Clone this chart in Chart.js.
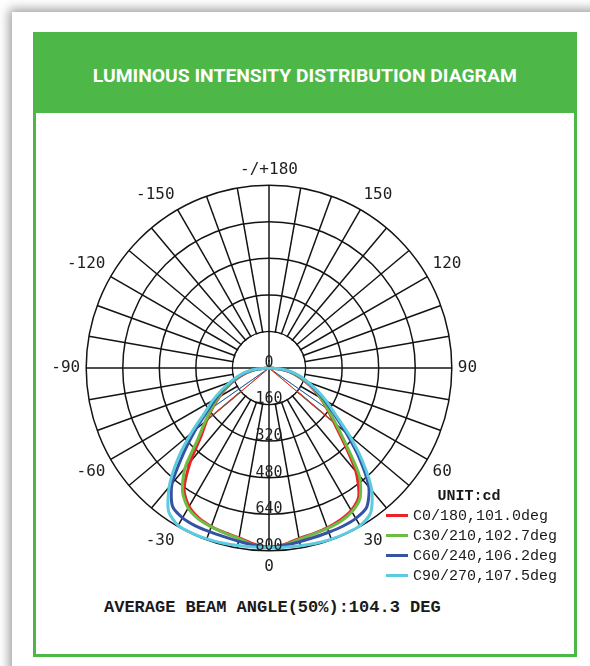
<!DOCTYPE html>
<html>
<head>
<meta charset="utf-8">
<script src="https://cdn.jsdelivr.net/npm/chart.js@4/dist/chart.umd.min.js"></script>
<style>
html,body{margin:0;padding:0;width:590px;height:666px;overflow:hidden;background:#fff;}
#card{position:absolute;left:12px;top:12px;width:700px;height:800px;background:#fff;box-shadow:0 0 10px 3px rgba(0,0,0,0.38);}
#frame{position:absolute;left:33px;top:32px;width:544px;height:625px;box-sizing:border-box;border:3px solid #4db748;}
#head{position:absolute;left:33px;top:32px;width:544px;height:81px;background:#4db748;}
#headText{position:absolute;left:0;top:0;width:544px;height:88px;line-height:88px;text-align:center;color:#fff;font-family:Roboto,'Open Sans',sans-serif;font-weight:700;font-size:19px;white-space:nowrap;}
#headText span{display:inline-block;transform-origin:50% 50%;}
#c{position:absolute;left:19px;top:160px;}
#legend{position:absolute;left:386px;top:487px;width:166px;font-family:'Liberation Mono','Courier New',monospace;font-size:15px;color:#1a1a1a;}
#legend .t{font-weight:700;text-align:center;line-height:20px;height:20px;}
#legend .row{height:20px;line-height:20px;white-space:nowrap;}
#legend .sw{display:inline-block;width:22px;height:3px;vertical-align:middle;margin-right:5px;position:relative;top:-1px;}
#beam{position:absolute;left:104px;top:598px;font-family:'Liberation Mono','Courier New',monospace;font-weight:700;font-size:17px;line-height:20px;color:#1a1a1a;white-space:nowrap;}
</style>
</head>
<body>
<div id="card"></div>
<div id="frame"></div>
<div id="head"><div id="headText"><span id="ht">LUMINOUS INTENSITY DISTRIBUTION DIAGRAM</span></div></div>
<canvas id="c" width="500" height="416"></canvas>
<div id="legend"></div>
<div id="beam">AVERAGE BEAM ANGLE(50%):104.3 DEG</div>
<script>
// ---- data (cd), lower hemisphere, gamma angle 0..90 deg in 5 deg steps ----
const gammaDeg = [0,5,10,15,20,25,30,35,40,45,50,55,60,65,70,75,80,85,90];
const c0Left   = [785,773,755,746,738,725,700,648,535,420,355,300,250,205,162,122,85,45,0];
const c0Right  = [785,775,758,750,744,735,720,685,592,465,372,310,258,210,165,125,87,46,0];
const c30Left  = [785,777,758,748,740,730,708,660,572,440,365,305,255,210,168,128,90,48,0];
const c30Right = [785,778,762,753,747,741,726,695,615,480,384,316,262,215,170,130,92,49,0];
const c60Left  = [784,778,770,764,762,762,757,737,660,530,420,330,270,220,175,135,95,50,0];
const c60Right = [784,779,772,767,765,764,760,745,680,560,440,345,280,225,178,137,96,51,0];
const c90Left  = [785,786,789,793,796,797,795,766,680,565,445,345,285,228,180,140,100,55,0];
const c90Right = [785,787,790,794,797,798,797,775,700,580,460,355,290,232,183,142,102,56,0];
// thin straight traces from the centre: [angle, value] pairs (negative = left side)
const c0Thin  = [[-50,340],[50,355]];
const c30Thin = [[-50,350],[50,365]];
const c60Thin = [[-55,325],[55,340]];
const c90Thin = [[-55,335],[55,350]];
const seriesNames = ['C0/180,101.0deg','C30/210,102.7deg','C60/240,106.2deg','C90/270,107.5deg'];
const seriesColors = ['#ec2227','#6cbd45','#3552a3','#5ccbdf'];
const intensityTicks = [0,160,320,480,640,800];
const angleTickLabels = {'0':'0','-30':'-30','-60':'-60','-90':'-90','-120':'-120','-150':'-150','-180':'-/+180','150':'150','120':'120','90':'90','60':'60','30':'30'};
const unitText = 'UNIT:cd';

// radar categories: 5 deg steps clockwise from the bottom (0) through left (-90), top (180), right (90)
const radarAngles = [];
for (let i = 0; i < 72; i++) radarAngles.push(i <= 36 ? -5 * i : 360 - 5 * i);

function onRadar(left, right) {
  return radarAngles.map(a => {
    if (a <= 0 && a >= -90) return left[gammaDeg.indexOf(-a)];
    if (a > 0 && a <= 90) return right[gammaDeg.indexOf(a)];
    return 0;
  });
}
function spokes(pairs) {
  return radarAngles.map(a => {
    for (const [ang, v] of pairs) {
      if (a === ang) return v;
      if (a === ang + (ang < 0 ? -5 : 5)) return 0;
    }
    return null;
  });
}

const GRID = '#141414';
const GRID_W = 1.5;
const maskPlugin = {
  id: 'innerMask',
  beforeDatasetsDraw(chart) {
    const s = chart.scales.r, ctx = chart.ctx;
    const r0 = s.getDistanceFromCenterForValue(intensityTicks[1]);
    ctx.save();
    ctx.beginPath();
    ctx.arc(s.xCenter, s.yCenter, r0 - 0.8, 0, Math.PI * 2);
    ctx.fillStyle = '#fff';
    ctx.fill();
    ctx.strokeStyle = GRID; ctx.lineWidth = GRID_W;
    [[0, 36], [18, 54]].forEach(([a, b]) => {
      const p1 = s.getPointPositionForValue(a, intensityTicks[1]);
      const p2 = s.getPointPositionForValue(b, intensityTicks[1]);
      ctx.beginPath(); ctx.moveTo(p1.x, p1.y); ctx.lineTo(p2.x, p2.y); ctx.stroke();
    });
    ctx.restore();
  }
};
const tickLabelPlugin = {
  id: 'tickLabels',
  afterDatasetsDraw(chart) {
    const s = chart.scales.r, ctx = chart.ctx;
    ctx.save();
    ctx.font = '15px "DejaVu Sans Mono"';
    ctx.fillStyle = '#1f1f1f';
    ctx.textAlign = 'center';
    ctx.textBaseline = 'middle';
    intensityTicks.forEach(v => {
      const r = s.getDistanceFromCenterForValue(v);
      ctx.fillText(String(v), s.xCenter, s.yCenter + r - 5);
    });
    ctx.restore();
  }
};
const htmlLegendPlugin = {
  id: 'htmlLegend',
  afterUpdate(chart) {
    const box = document.getElementById('legend');
    box.innerHTML = '';
    const t = document.createElement('div'); t.className = 't'; t.textContent = unitText; box.appendChild(t);
    chart.data.datasets.forEach(ds => {
      if (!ds.inLegend) return;
      const row = document.createElement('div'); row.className = 'row';
      const sw = document.createElement('span'); sw.className = 'sw'; sw.style.background = ds.borderColor;
      const tx = document.createElement('span'); tx.textContent = ds.label;
      row.appendChild(sw); row.appendChild(tx); box.appendChild(row);
    });
  }
};

const thick = [[c0Left,c0Right],[c30Left,c30Right],[c60Left,c60Right],[c90Left,c90Right]];
const thins = [c0Thin, c30Thin, c60Thin, c90Thin];
const datasets = [];
thick.forEach((lr, k) => datasets.push({
  label: seriesNames[k], inLegend: true, data: onRadar(lr[0], lr[1]),
  borderColor: seriesColors[k], borderWidth: 3, fill: false, pointRadius: 0,
  tension: 0.25, order: 3 - k
}));
thins.forEach((p, k) => datasets.push({
  label: seriesNames[k] + ' thin', inLegend: false, data: spokes(p),
  borderColor: seriesColors[k], borderWidth: 1, fill: false, pointRadius: 0,
  tension: 0, spanGaps: false, order: 10 + k
}));

new Chart(document.getElementById('c'), {
  type: 'radar',
  data: { labels: radarAngles.map(String), datasets },
  options: {
    responsive: false, animation: false,
    layout: { padding: 0 },
    plugins: { legend: { display: false }, tooltip: { enabled: false } },
    scales: {
      r: {
        min: 0, max: 800, startAngle: 180,
        ticks: { display: false, stepSize: 160 },
        grid: { color: GRID, lineWidth: GRID_W, circular: true },
        angleLines: {
          color: ctx => (radarAngles[ctx.index] % 10 === 0 ? GRID : 'rgba(0,0,0,0)'),
          lineWidth: ctx => (radarAngles[ctx.index] % 10 === 0 ? GRID_W : 0)
        },
        pointLabels: {
          font: { family: 'DejaVu Sans Mono', size: 16 }, color: '#1f1f1f', padding: 6,
          callback: l => angleTickLabels[l] || ''
        }
      }
    }
  },
  plugins: [maskPlugin, tickLabelPlugin, htmlLegendPlugin]
});

// fit the condensed header text to its width in the reference
const ht = document.getElementById('ht');
const w = ht.getBoundingClientRect().width;
ht.style.transform = 'scaleX(' + (424 / w) + ')';
</script>
</body>
</html>
